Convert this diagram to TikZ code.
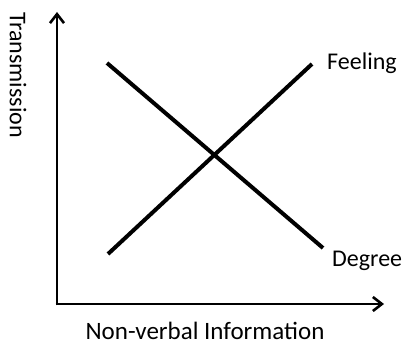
\documentclass[tikz,border=0pt]{standalone}
\usepackage{fontspec}
\setmainfont{Carlito}
\usetikzlibrary{arrows.meta}
\begin{document}
\begin{tikzpicture}[x=1pt,y=-1pt,
  axis/.style={line width=2.6pt,-{Straight Barb[length=9pt,width=14pt,line width=2.6pt]}},
  trend/.style={line width=4pt},
  lbl/.style={font=\fontsize{24}{28}\selectfont,inner sep=0pt}]
\useasboundingbox (0,0) rectangle (407,344);
% axes
\coordinate (o) at (57,304);
\coordinate (ytop) at (57,12);
\coordinate (xend) at (384,304);
\draw[axis] (57,305.3) -- (ytop);
\draw[axis] (55.7,304) -- (xend);
% trend lines
\coordinate (f1) at (108,254);
\coordinate (f2) at (312,64);
\coordinate (d1) at (107,63);
\coordinate (d2) at (323,248);
\draw[trend] (f1) -- (f2);
\draw[trend] (d1) -- (d2);
% labels
\node[lbl,anchor=base west] (feel) at (327,70) {Feeling};
\node[lbl,anchor=base west] (deg) at (332,267) {Degree};
\node[lbl,rotate=-90,anchor=west] (ylab) at (18,12) {Transmission};
\node[lbl,font=\fontsize{25}{29}\selectfont,anchor=base] (xlab) at (205,340) {Non-verbal Information};
\end{tikzpicture}
\end{document}
